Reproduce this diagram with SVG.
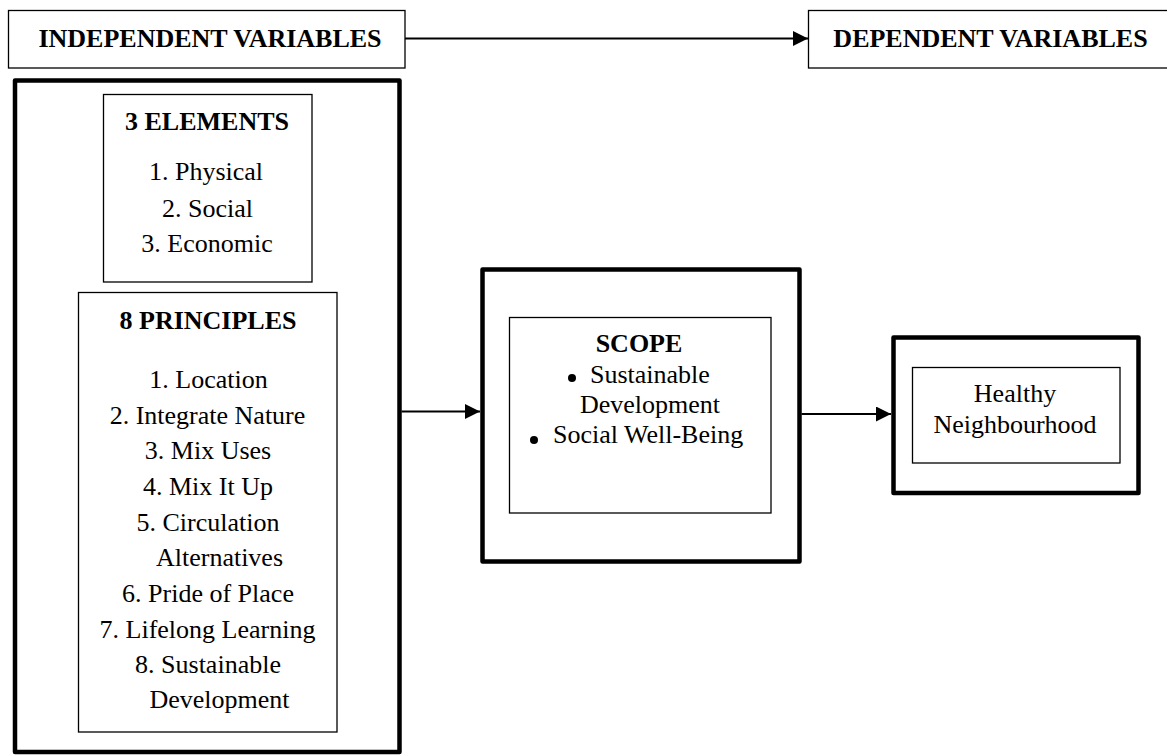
<svg xmlns="http://www.w3.org/2000/svg" width="1167" height="755" viewBox="0 0 1167 755">
<style>
text{font-family:"Liberation Serif","Times New Roman",serif;font-size:26px;fill:#000}
.b{font-weight:bold}
.m{text-anchor:middle}
.thin{fill:#fff;stroke:#000;stroke-width:1.3}
.thick{fill:#fff;stroke:#000;stroke-width:4.5;stroke-linejoin:round}
.conn{stroke:#000;stroke-width:2;fill:none}
</style>
<defs>
<marker id="ah" markerUnits="userSpaceOnUse" markerWidth="16" markerHeight="16" refX="15" refY="7.5" orient="auto">
<path d="M0,0 L15,7.5 L0,15 Z" fill="#000"/>
</marker>
</defs>
<g id="independent">
<rect class="thin" x="8.5" y="10.5" width="396.5" height="57.5"/>
<text class="b m" x="210" y="47">INDEPENDENT VARIABLES</text>
</g>
<g id="dependent">
<rect class="thin" x="808.5" y="10.5" width="365" height="57.5"/>
<text class="b m" x="990.5" y="47">DEPENDENT VARIABLES</text>
</g>
<g id="independent-group">
<rect class="thick" x="15" y="80.5" width="384.5" height="671.5"/>
</g>
<g id="elements">
<rect class="thin" x="103.5" y="94.5" width="208.5" height="187.5"/>
<text class="b m" x="207" y="130">3 ELEMENTS</text>
<text class="m" x="206" y="180">1. Physical</text>
<text class="m" x="207.5" y="216.5">2. Social</text>
<text class="m" x="207" y="251.5">3. Economic</text>
</g>
<g id="principles">
<rect class="thin" x="78.5" y="292.5" width="258.5" height="439.5"/>
<text class="b m" x="208" y="329">8 PRINCIPLES</text>
<text class="m" x="208.5" y="388">1. Location</text>
<text class="m" x="207.5" y="424">2. Integrate Nature</text>
<text class="m" x="208" y="459">3. Mix Uses</text>
<text class="m" x="208" y="495">4. Mix It Up</text>
<text class="m" x="208" y="531">5. Circulation</text>
<text class="m" x="219.5" y="566">Alternatives</text>
<text class="m" x="208" y="602">6. Pride of Place</text>
<text class="m" x="207.5" y="638">7. Lifelong Learning</text>
<text class="m" x="208" y="673">8. Sustainable</text>
<text class="m" x="219.5" y="708">Development</text>
</g>
<g id="scope-outer">
<rect class="thick" x="482.5" y="269.5" width="317" height="292"/>
</g>
<g id="scope">
<rect class="thin" x="509.5" y="317.5" width="261.5" height="195.5"/>
<text class="b m" x="639" y="352">SCOPE</text>
<circle cx="572" cy="378" r="4"/>
<text x="590" y="383">Sustainable</text>
<text x="580" y="413">Development</text>
<circle cx="534" cy="440" r="4"/>
<text x="553" y="443">Social Well-Being</text>
</g>
<g id="healthy-outer">
<rect class="thick" x="893.5" y="337.5" width="245" height="155.5"/>
</g>
<g id="healthy">
<rect class="thin" x="912.5" y="367.5" width="207.5" height="95.5"/>
<text class="m" x="1015" y="402">Healthy</text>
<text class="m" x="1015" y="433">Neighbourhood</text>
</g>
<g id="connectors">
<line class="conn" x1="405" y1="38.5" x2="808" y2="38.5" marker-end="url(#ah)"/>
<line class="conn" x1="401.5" y1="411.5" x2="480" y2="411.5" marker-end="url(#ah)"/>
<line class="conn" x1="801.5" y1="414" x2="891" y2="414" marker-end="url(#ah)"/>
</g>
</svg>
